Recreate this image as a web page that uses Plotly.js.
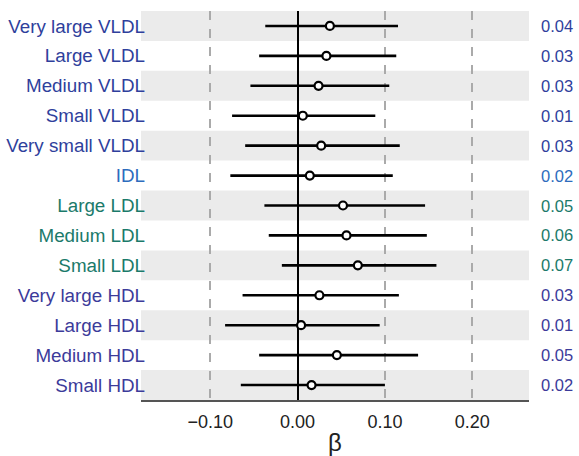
<!DOCTYPE html>
<html>
<head>
<meta charset="utf-8">
<script src="https://cdn.plot.ly/plotly-3.0.1.min.js"></script>
<style>html,body{margin:0;padding:0;background:#fff;}#chart{width:579px;height:456px;}</style>
</head>
<body>
<div id="chart"></div>
<script>
const categories = ["Very large VLDL","Large VLDL","Medium VLDL","Small VLDL","Very small VLDL","IDL","Large LDL","Medium LDL","Small LDL","Very large HDL","Large HDL","Medium HDL","Small HDL"];
const groups = ["VLDL","VLDL","VLDL","VLDL","VLDL","IDL","LDL","LDL","LDL","HDL","HDL","HDL","HDL"];
const beta = [0.037,0.033,0.024,0.006,0.027,0.014,0.052,0.056,0.069,0.025,0.004,0.045,0.016];
const ciLow = [-0.037,-0.044,-0.054,-0.075,-0.060,-0.077,-0.038,-0.033,-0.018,-0.063,-0.083,-0.044,-0.065];
const ciHigh = [0.115,0.113,0.105,0.089,0.117,0.109,0.146,0.148,0.159,0.116,0.094,0.138,0.100];
const valueLabels = ["0.04","0.03","0.03","0.01","0.03","0.02","0.05","0.06","0.07","0.03","0.01","0.05","0.02"];
const xTicks = [-0.10,0.00,0.10,0.20];
const xTickText = ["\u22120.10","0.00","0.10","0.20"];

const groupColors = {VLDL:"#2f3f9c", IDL:"#2d6cbd", LDL:"#1b7a6a", HDL:"#3c3b9a"};

const trace = {
  type: "scatter",
  mode: "markers",
  x: beta,
  y: categories,
  error_x: {
    type: "data",
    symmetric: false,
    array: beta.map((b,i)=>ciHigh[i]-b),
    arrayminus: beta.map((b,i)=>b-ciLow[i]),
    color: "#000",
    thickness: 2.6,
    width: 0
  },
  marker: {symbol: "circle", size: 8, color: "#fff", line: {color: "#000", width: 2.2}},
  hoverinfo: "none",
  cliponaxis: false
};

const shapes = [];
categories.forEach((c,i)=>{
  if (i % 2 === 0) {
    shapes.push({type:"rect", xref:"paper", yref:"y", x0:0, x1:1, y0:i-0.5, y1:i+0.5,
      fillcolor:"#ebebeb", line:{width:0}, layer:"below"});
  }
});

const annotations = categories.map((c,i)=>({
  xref:"paper", yref:"y", x:1.1186, y:i, xanchor:"right", yanchor:"middle",
  text: valueLabels[i], showarrow:false,
  font:{family:"Liberation Sans, Arial, sans-serif", size:16.5, color: groupColors[groups[i]]}
}));

const layout = {
  width: 579, height: 456,
  margin: {l:141, r:50, t:11, b:56},
  paper_bgcolor: "#fff", plot_bgcolor: "rgba(0,0,0,0)",
  showlegend: false,
  font: {family:"Liberation Sans, Arial, sans-serif", color:"#222"},
  xaxis: {
    range: [-0.1793, 0.265],
    tickvals: xTicks, ticktext: xTickText,
    ticks: "", showgrid: true, gridcolor: "#aaaaaa", gridwidth: 1.6, griddash: "dash",
    zeroline: true, zerolinecolor: "#000", zerolinewidth: 2,
    showline: true, linecolor: "#555", linewidth: 1.5,
    tickfont: {size: 18, color:"#222"},
    ticklabelstandoff: 5,
    title: {text: "\u03b2", font:{size: 24, color:"#222"}, standoff: 4},
    fixedrange: true
  },
  yaxis: {
    type: "category",
    categoryorder: "array", categoryarray: categories,
    range: [12.5, -0.5],
    tickvals: categories,
    ticktext: categories.map((c,i)=>'<span style="color:'+groupColors[groups[i]]+'">'+c+'</span>'),
    ticks: "", showgrid: false, zeroline: false, showline: false,
    tickfont: {size: 18.8},
    ticklabelstandoff: -5,
    fixedrange: true
  },
  shapes: shapes,
  annotations: annotations
};

Plotly.newPlot("chart", [trace], layout, {staticPlot: true, displayModeBar: false});
</script>
</body>
</html>
